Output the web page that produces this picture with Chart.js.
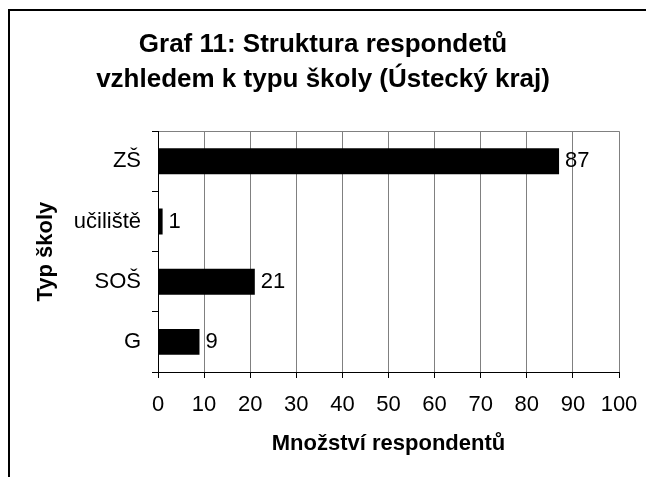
<!DOCTYPE html>
<html>
<head>
<meta charset="utf-8">
<script src="https://cdn.jsdelivr.net/npm/chart.js@4"></script>
<style>
  html, body { margin: 0; padding: 0; background: #fff; }
  #wrap { width: 646px; height: 477px; }
</style>
</head>
<body>
<div id="wrap"><canvas id="chart" width="646" height="477"></canvas></div>
<script>
const skoly = ['ZŠ', 'učiliště', 'SOŠ', 'G'];
const respondenti = [87, 1, 21, 9];
const titulek = ['Graf 11: Struktura respondetů', 'vzhledem k typu školy (Ústecký kraj)'];

Chart.defaults.font.family = '"Liberation Sans", Arial, sans-serif';
Chart.defaults.color = '#000';

// ramecek kolem grafu
const ramecek = {
  id: 'ramecek',
  afterDraw(chart) {
    const c = chart.ctx;
    c.save();
    c.strokeStyle = '#000';
    c.lineWidth = 2;
    c.strokeRect(9, 10, 800, 800);
    c.restore();
  }
};

// hodnoty vedle sloupcu
const popisky = {
  id: 'popisky',
  afterDatasetsDraw(chart) {
    const c = chart.ctx;
    const meta = chart.getDatasetMeta(0);
    c.save();
    c.font = '22px "Liberation Sans", Arial, sans-serif';
    c.fillStyle = '#000';
    c.textAlign = 'left';
    c.textBaseline = 'middle';
    meta.data.forEach((bar, i) => {
      c.fillText(respondenti[i], bar.x + 6, bar.y);
    });
    c.restore();
  }
};

new Chart(document.getElementById('chart'), {
  type: 'bar',
  data: {
    labels: skoly,
    datasets: [{
      data: respondenti,
      backgroundColor: '#000',
      borderWidth: 0,
      barPercentage: 0.43,
      categoryPercentage: 1
    }]
  },
  options: {
    indexAxis: 'y',
    responsive: false,
    animation: false,
    layout: { padding: { left: 27, right: 27, top: 0, bottom: 0 } },
    plugins: {
      legend: { display: false },
      tooltip: { enabled: false },
      title: {
        display: true,
        text: titulek,
        color: '#000',
        font: { size: 26, weight: 'bold', lineHeight: 1.35 },
        padding: { top: 27, bottom: 34 }
      }
    },
    scales: {
      x: {
        min: 0,
        max: 100,
        ticks: { stepSize: 10, font: { size: 22 }, padding: 14, color: '#000' },
        grid: {
          color: ctx => (ctx.tick && ctx.tick.value === 0 ? '#000' : '#808080'),
          tickColor: '#000',
          tickLength: 6,
          lineWidth: 1
        },
        border: { color: '#000', width: 1 },
        title: {
          display: true,
          text: 'Množství respondentů',
          font: { size: 22, weight: 'bold' },
          color: '#000',
          padding: { top: 0, bottom: 20 }
        },
        afterFit(scale) {
          scale.height = 105;
          scale.paddingLeft = 0;
          scale.paddingRight = 0;
        }
      },
      y: {
        ticks: { font: { size: 22 }, padding: 11, color: '#000' },
        grid: {
          offset: true,
          color: ctx => (ctx.index === 0 ? '#808080' : 'rgba(0,0,0,0)'),
          tickColor: '#000',
          tickLength: 6,
          lineWidth: 1
        },
        border: { color: '#000', width: 1 },
        title: {
          display: true,
          text: 'Typ školy',
          font: { size: 22, weight: 'bold' },
          color: '#000',
          padding: { top: 6, bottom: 0 }
        },
        afterFit(scale) { scale.width = 131; }
      }
    }
  },
  plugins: [ramecek, popisky]
});
</script>
</body>
</html>
